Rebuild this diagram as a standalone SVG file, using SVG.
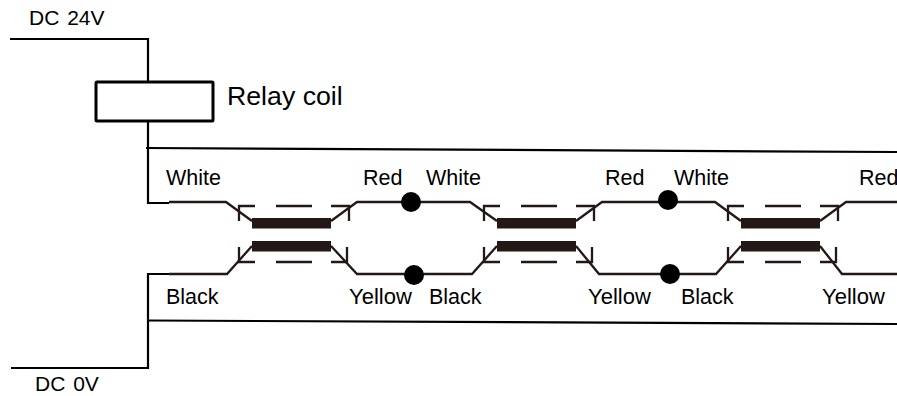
<svg xmlns="http://www.w3.org/2000/svg" xmlns:xlink="http://www.w3.org/1999/xlink" width="897" height="396" viewBox="0 0 897 396">
<style>
text{font-family:"Liberation Sans",Arial,sans-serif;font-size:21.500px;fill:#000}
.k{fill:none;stroke:#000;stroke-width:2.200}
.w{fill:none;stroke:#231815;stroke-width:2.300}
.t{fill:none;stroke:#231815;stroke-width:2.300}
.bar{fill:#231815}
.dot{fill:#000}
.y{font-size:22px}
.dc{font-size:21px;word-spacing:2px}
</style>
<defs>
<g id="unit">
<rect class="bar" x="252" y="218" width="79" height="10.500"/>
<rect class="bar" x="252" y="241" width="79" height="10.500"/>
<path class="t" d="M239 221V206H255M276 206H312M331 206H349V221M239 247V262H255M276 262H312M331 262H347V247"/>
</g>
</defs>
<rect width="897" height="396" fill="#fff"/>
<g id="connectors">
<path class="k" d="M10 39H148V81M148 122V203H169"/>
<path class="k" d="M11 368H148V274H169"/>
<path class="k" d="M146 148L897 152"/>
<path class="k" d="M148 320.500L897 324"/>
<path class="w" d="M169 202H226L252 221M331 221L357 202H470L497 221M576 221L602 202H715L741 221M820 221L846 202H897"/>
<path class="w" d="M169 274H227L252 246M331 246L357 274H472L497 246M576 246L599 274H716L741 246M820 246L842 274H897"/>
</g>
<g id="relay-coil">
<rect x="96" y="82" width="117" height="39" rx="1" fill="none" stroke="#000" stroke-width="3"/>
<text x="227" y="105" style="font-size:26.700px">Relay coil</text>
</g>
<g id="supply-24v"><text class="dc" x="29" y="25">DC 24V</text></g>
<g id="supply-0v"><text class="dc" x="35" y="391">DC 0V</text></g>
<g id="unit-1"><use xlink:href="#unit" href="#unit"/></g>
<g id="unit-2"><use xlink:href="#unit" href="#unit" x="245"/></g>
<g id="unit-3"><use xlink:href="#unit" href="#unit" x="489"/></g>
<g id="junction-1"><circle class="dot" cx="411" cy="202" r="10"/></g>
<g id="junction-2"><circle class="dot" cx="414" cy="275" r="10"/></g>
<g id="junction-3"><circle class="dot" cx="668" cy="200" r="10"/></g>
<g id="junction-4"><circle class="dot" cx="670" cy="274" r="10"/></g>
<g id="labels">
<text x="166" y="185">White</text>
<text x="363" y="185">Red</text>
<text x="426" y="185">White</text>
<text x="605" y="185">Red</text>
<text x="674" y="185">White</text>
<text x="859" y="185">Red</text>
<text x="166" y="304">Black</text>
<text class="y" x="349" y="304">Yellow</text>
<text x="429" y="304">Black</text>
<text class="y" x="588" y="304">Yellow</text>
<text x="681" y="304">Black</text>
<text class="y" x="822" y="304">Yellow</text>
</g>
</svg>
